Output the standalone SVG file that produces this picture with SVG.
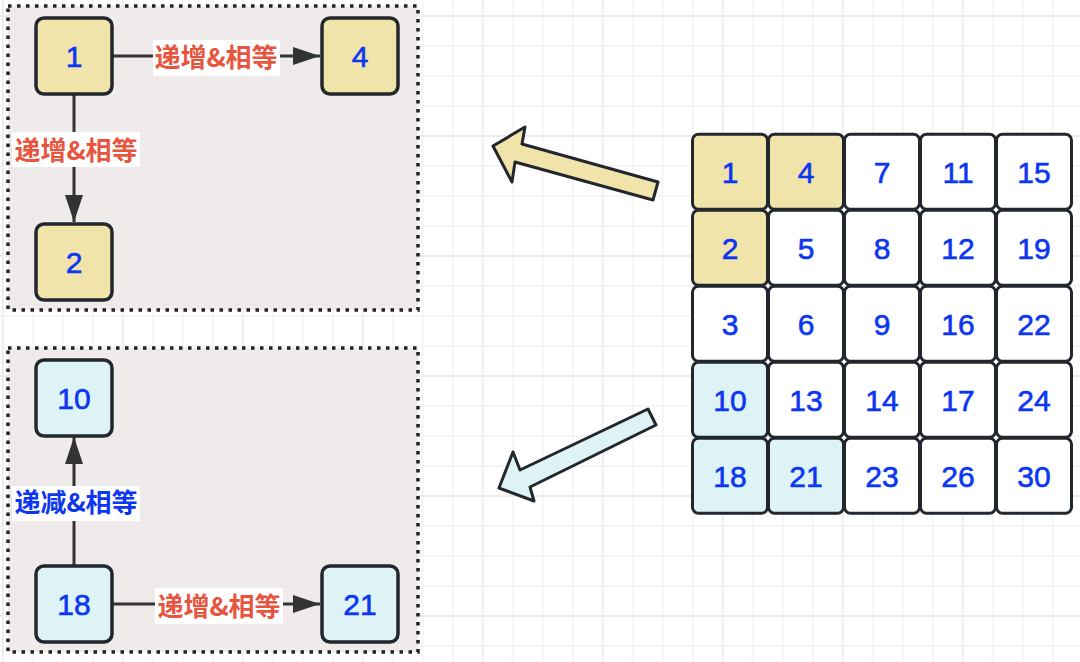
<svg xmlns="http://www.w3.org/2000/svg" width="1080" height="662" viewBox="0 0 1080 662">
<defs>
<pattern id="grid" x="2.7" y="16" width="120" height="120" patternUnits="userSpaceOnUse">
<path d="M30,0V120M60,0V120M90,0V120M0,30H120M0,60H120M0,90H120" stroke="#f3f3f3" stroke-width="1.6" fill="none"/>
<path d="M0,0V120M120,0V120M0,0H120M0,120H120" stroke="#ececec" stroke-width="1.8" fill="none"/>
</pattern>
<marker id="ah" markerUnits="userSpaceOnUse" markerWidth="28" markerHeight="20" refX="27" refY="9" orient="auto">
<path d="M0,0L27,9L0,18Z" fill="#333333"/>
</marker>
<style>
.box{fill:#efebea;stroke:#222222;stroke-width:3.5;stroke-dasharray:3.5 5.5}
.nd{stroke:#22272e;stroke-width:3.5}
.y{fill:#f0e4aa}
.c{fill:#def3f5}
.w{fill:#ffffff}
.cell{stroke:#22272e;stroke-width:3}
.num{font-family:"Liberation Sans",Arial,sans-serif;font-size:30px;fill:#0b36f2;stroke:#0b36f2;stroke-width:0.6;text-anchor:middle}
.edge{stroke:#333333;stroke-width:3;fill:none}
.lb{fill:#ffffff}
.lt{font-family:"Noto Sans CJK SC","Noto Sans",sans-serif;font-size:26px;text-anchor:middle;font-weight:bold}
.red{fill:#e8553f}
.blue{fill:#0b36f2}
.big{stroke:#22272e;stroke-width:3;stroke-linejoin:round}
</style>
</defs>
<rect width="1080" height="662" fill="#ffffff"/>
<rect width="1080" height="662" fill="url(#grid)"/>

<g id="container-top"><rect class="box" x="8" y="6" width="410" height="304"/></g>
<g id="container-bottom"><rect class="box" x="8" y="348" width="410" height="304"/></g>

<g id="connectors">
<path class="edge" d="M113,56H320" marker-end="url(#ah)"/>
<path class="edge" d="M74,95V222" marker-end="url(#ah)"/>
<path class="edge" d="M74,565V437" marker-end="url(#ah)"/>
<path class="edge" d="M113,604H320" marker-end="url(#ah)"/>
<rect class="lb" x="153" y="40" width="127" height="36"/>
<text class="lt red" x="216" y="67">递增&amp;相等</text>
<rect class="lb" x="12" y="132" width="128" height="35"/>
<text class="lt red" x="76" y="160">递增&amp;相等</text>
<rect class="lb" x="12" y="486" width="128" height="35"/>
<text class="lt blue" x="76" y="512">递减&amp;相等</text>
<rect class="lb" x="155" y="588" width="128" height="36"/>
<text class="lt red" x="219" y="616">递增&amp;相等</text>
</g>

<g id="node-1"><rect class="nd y" x="36" y="18" width="76" height="76" rx="8"/><text class="num" x="74" y="66.7">1</text></g>
<g id="node-4"><rect class="nd y" x="322" y="18" width="76" height="76" rx="8"/><text class="num" x="360" y="66.7">4</text></g>
<g id="node-2"><rect class="nd y" x="36" y="224" width="76" height="76" rx="8"/><text class="num" x="74" y="272.7">2</text></g>
<g id="node-10"><rect class="nd c" x="36" y="360" width="76" height="76" rx="8"/><text class="num" x="74" y="408.7">10</text></g>
<g id="node-18"><rect class="nd c" x="36" y="566" width="76" height="76" rx="8"/><text class="num" x="74" y="614.7">18</text></g>
<g id="node-21"><rect class="nd c" x="322" y="566" width="76" height="76" rx="8"/><text class="num" x="360" y="614.7">21</text></g>

<g id="arrow-yellow"><polygon class="big y" points="493,146 525,127 522,144 658,182 653,200 515,162 512,182"/></g>
<g id="arrow-cyan"><polygon class="big c" points="499,488 513,452 520,470 648,409 656,425 530,487 534,501"/></g>

<g id="matrix">
<g id="cell-1"><rect class="cell y" x="692.5" y="134.2" width="75" height="75" rx="6"/><text class="num" x="730" y="183">1</text></g>
<g id="cell-4"><rect class="cell y" x="768.5" y="134.2" width="75" height="75" rx="6"/><text class="num" x="806" y="183">4</text></g>
<g id="cell-7"><rect class="cell w" x="844.5" y="134.2" width="75" height="75" rx="6"/><text class="num" x="882" y="183">7</text></g>
<g id="cell-11"><rect class="cell w" x="920.5" y="134.2" width="75" height="75" rx="6"/><text class="num" x="958" y="183">11</text></g>
<g id="cell-15"><rect class="cell w" x="996.5" y="134.2" width="75" height="75" rx="6"/><text class="num" x="1034" y="183">15</text></g>

<g id="cell-2"><rect class="cell y" x="692.5" y="210.2" width="75" height="75" rx="6"/><text class="num" x="730" y="259">2</text></g>
<g id="cell-5"><rect class="cell w" x="768.5" y="210.2" width="75" height="75" rx="6"/><text class="num" x="806" y="259">5</text></g>
<g id="cell-8"><rect class="cell w" x="844.5" y="210.2" width="75" height="75" rx="6"/><text class="num" x="882" y="259">8</text></g>
<g id="cell-12"><rect class="cell w" x="920.5" y="210.2" width="75" height="75" rx="6"/><text class="num" x="958" y="259">12</text></g>
<g id="cell-19"><rect class="cell w" x="996.5" y="210.2" width="75" height="75" rx="6"/><text class="num" x="1034" y="259">19</text></g>

<g id="cell-3"><rect class="cell w" x="692.5" y="286.2" width="75" height="75" rx="6"/><text class="num" x="730" y="335">3</text></g>
<g id="cell-6"><rect class="cell w" x="768.5" y="286.2" width="75" height="75" rx="6"/><text class="num" x="806" y="335">6</text></g>
<g id="cell-9"><rect class="cell w" x="844.5" y="286.2" width="75" height="75" rx="6"/><text class="num" x="882" y="335">9</text></g>
<g id="cell-16"><rect class="cell w" x="920.5" y="286.2" width="75" height="75" rx="6"/><text class="num" x="958" y="335">16</text></g>
<g id="cell-22"><rect class="cell w" x="996.5" y="286.2" width="75" height="75" rx="6"/><text class="num" x="1034" y="335">22</text></g>

<g id="cell-10"><rect class="cell c" x="692.5" y="362.2" width="75" height="75" rx="6"/><text class="num" x="730" y="411">10</text></g>
<g id="cell-13"><rect class="cell w" x="768.5" y="362.2" width="75" height="75" rx="6"/><text class="num" x="806" y="411">13</text></g>
<g id="cell-14"><rect class="cell w" x="844.5" y="362.2" width="75" height="75" rx="6"/><text class="num" x="882" y="411">14</text></g>
<g id="cell-17"><rect class="cell w" x="920.5" y="362.2" width="75" height="75" rx="6"/><text class="num" x="958" y="411">17</text></g>
<g id="cell-24"><rect class="cell w" x="996.5" y="362.2" width="75" height="75" rx="6"/><text class="num" x="1034" y="411">24</text></g>

<g id="cell-18"><rect class="cell c" x="692.5" y="438.2" width="75" height="75" rx="6"/><text class="num" x="730" y="487">18</text></g>
<g id="cell-21"><rect class="cell c" x="768.5" y="438.2" width="75" height="75" rx="6"/><text class="num" x="806" y="487">21</text></g>
<g id="cell-23"><rect class="cell w" x="844.5" y="438.2" width="75" height="75" rx="6"/><text class="num" x="882" y="487">23</text></g>
<g id="cell-26"><rect class="cell w" x="920.5" y="438.2" width="75" height="75" rx="6"/><text class="num" x="958" y="487">26</text></g>
<g id="cell-30"><rect class="cell w" x="996.5" y="438.2" width="75" height="75" rx="6"/><text class="num" x="1034" y="487">30</text></g>
</g>
</svg>
